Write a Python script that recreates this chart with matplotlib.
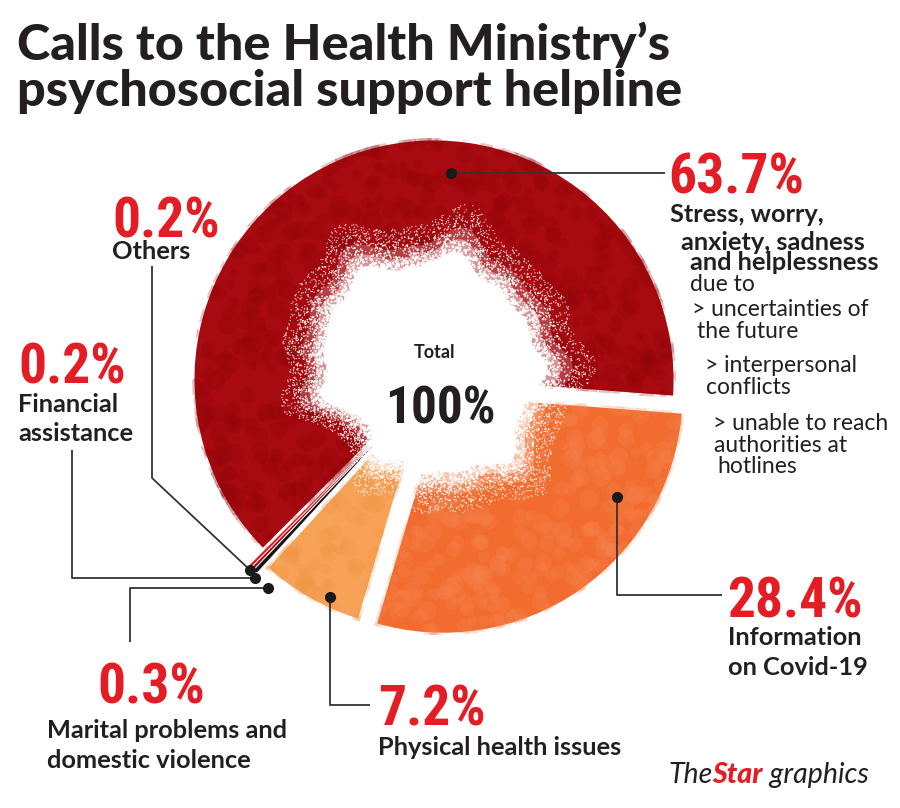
import numpy as np
import matplotlib.pyplot as plt
from matplotlib import font_manager
from matplotlib.patches import Polygon

# data
categories = ['Stress, worry, anxiety, sadness and helplessness',
              'Information on Covid-19',
              'Physical health issues',
              'Marital problems and domestic violence',
              'Financial assistance',
              'Others']
shares = [63.7, 28.4, 7.2, 0.3, 0.2, 0.2]
pct_labels = ['63.7%', '28.4%', '7.2%', '0.3%', '0.2%', '0.2%']
total_label = '100%'

# styles
colors = ['#a70a10', '#f36c2f', '#f7a257', '#151515', '#a8080e', '#e3141c']
mottle = ['#8c0409', '#f78a58', '#f0913f']
explode = [0, 16, 11, 20, 20, 20]
RED = '#e41d25'
INK = '#231f20'

names = {f.name for f in font_manager.fontManager.ttflist}
cond = next((n for n in ['Liberation Sans Narrow', 'Roboto Condensed', 'Open Sans Condensed']
             if n in names), 'DejaVu Sans')

W, H = 900, 808
def Y(y):
    return H - y

def hash01(k, seed):
    return np.modf(np.abs(np.sin(k * 12.9898 + seed * 78.233)) * 43758.5453)[0]

fig = plt.figure(figsize=(9, 8.08), dpi=100)
ax = fig.add_axes([0, 0, 1, 1])

cx, cy, R = 434, 380, 242
wedges, _ = ax.pie(shares, colors=colors, explode=explode, center=(cx, Y(cy)), radius=R,
                   startangle=225, counterclock=False, frame=False,
                   wedgeprops=dict(edgecolor='white', linewidth=0.5))
for w in wedges[:3]:
    w.set_linewidth(3.5)
ax.set_xlim(0, W)
ax.set_ylim(0, H)
ax.set_aspect('equal')
ax.axis('off')

# soft mottled texture on the big slices
j = np.arange(1500)
mx = cx - R - 30 + (2 * R + 60) * hash01(j, 4.0)
my = Y(cy) - R - 30 + (2 * R + 60) * hash01(j, 5.0)
ms = 30 + 160 * hash01(j, 6.0)
for w, mc in zip(wedges[:3], mottle):
    sc = ax.scatter(mx, my, s=ms, c=mc, alpha=0.22, linewidths=0, zorder=1.5)
    sc.set_clip_path(w)

# white splash in the middle (decoration only)
bx, by = 425, Y(372)
def blob_r(t):
    return (121 - 30 * np.exp(3 * (np.cos(t + 2.36) - 1))
            + 6 * np.sin(6 * t + 0.6) + 5 * np.sin(9 * t + 2.0) + 3 * np.sin(15 * t + 1.1))

th = np.linspace(0, 2 * np.pi, 600)
for k, a in [(1.12, 0.22), (1.03, 0.45), (0.93, 1.0)]:
    rr = blob_r(th) * k
    ax.add_patch(Polygon(np.c_[bx + rr * np.cos(th), by + rr * np.sin(th)],
                         closed=True, fc='white', ec='none', alpha=a, zorder=2))
i = np.arange(9000)
ang = 2 * np.pi * hash01(i, 1.0)
v = hash01(i, 2.0)
sz = hash01(i, 3.0)
rr = blob_r(ang) * (0.88 + 0.42 * v ** 1.8)
ax.scatter(bx + rr * np.cos(ang), by + rr * np.sin(ang), s=0.8 + 9 * sz * (1 - v) ** 2,
           c='white', alpha=0.9, linewidths=0, zorder=2.5)

# leader lines
leaders = [
    [(451, 173), (665, 173)],
    [(152, 266), (152, 478), (250, 570)],
    [(72, 450), (72, 578), (255, 578)],
    [(268, 588), (130, 588), (130, 642)],
    [(330, 597), (330, 705), (370, 705)],
    [(617, 497), (617, 595), (722, 595)],
]
dots = [(451, 173), (250, 570), (255, 578), (268, 588), (330, 597), (617, 497)]
for pts in leaders:
    xs, ys = zip(*pts)
    ax.plot(xs, [Y(y) for y in ys], color='#333333', lw=1.3, zorder=3,
            solid_capstyle='butt')
for x, y in dots:
    ax.plot(x, Y(y), 'o', ms=7, color='#1a1a1a', zorder=4)

# title
tkw = dict(family='Lato', weight='black', fontsize=36.3, color=INK)
ax.text(17, Y(60), 'Calls to the Health Ministry\u2019s', **tkw)
ax.text(17, Y(106), 'psychosocial support helpline', **tkw)

# big percentages
pkw = dict(family=cond, weight='bold', fontsize=40, color=RED, zorder=5)
pct_pos = [(668, 194), (727, 617), (378, 726), (97, 704), (18, 384), (112, 237)]
for lab, (x, y) in zip(pct_labels, pct_pos):
    ax.text(x, Y(y), lab, **pkw)

bkw = dict(family='Lato', weight='bold', fontsize=18.3, color=INK, zorder=5)
rkw = dict(family='Lato', fontsize=16.5, color=INK, zorder=5)
label_lines = [
    ('Stress, worry,', 670, 222, bkw), ('anxiety, sadness', 681, 250, bkw),
    ('and helplessness', 690, 270, bkw), ('due to', 690, 291, rkw),
    ('> uncertainties of', 692, 316, rkw), ('the future', 697, 338, rkw),
    ('> interpersonal', 705, 372, rkw), ('conflicts', 706, 394, rkw),
    ('> unable to reach', 713, 430, rkw), ('authorities at', 714, 452, rkw),
    ('hotlines', 717, 473, rkw),
    ('Others', 112, 259, bkw),
    ('Financial', 18, 412, bkw), ('assistance', 18, 441, bkw),
    ('Information', 728, 645, bkw), ('on Covid-19', 728, 675, bkw),
    ('Physical health issues', 378, 755, bkw),
    ('Marital problems and', 47, 738, bkw), ('domestic violence', 47, 768, bkw),
]
for txt, x, y, kw in label_lines:
    ax.text(x, Y(y), txt, **kw)

# centre
ax.text(434, Y(358), 'Total', ha='center', family='Lato', weight='bold',
        fontsize=13, color=INK, zorder=5)
ax.text(440, Y(424), total_label, ha='center', family=cond, weight='bold',
        fontsize=37, color=INK, zorder=5)

# credit
renderer = fig.canvas.get_renderer()
inv = ax.transData.inverted()
x0 = 668
for part, kw in [('The', dict(style='italic', color=INK)),
                 ('Star', dict(style='italic', weight='black', color=RED)),
                 (' graphics', dict(style='italic', color=INK))]:
    t = ax.text(x0, Y(783), part, family='Lato', fontsize=20.5, zorder=5, **kw)
    bb = t.get_window_extent(renderer)
    x0 = inv.transform((bb.x1, bb.y0))[0]

fig.savefig('out.png', dpi=100, facecolor='white')
